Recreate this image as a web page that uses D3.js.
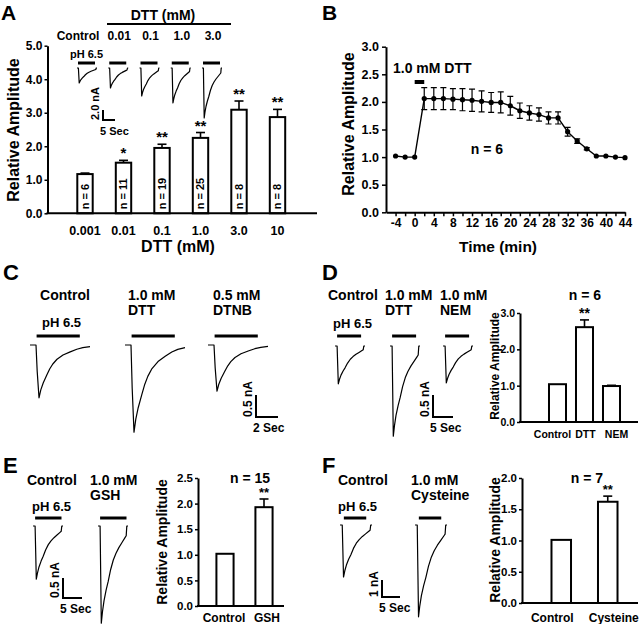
<!DOCTYPE html>
<html>
<head>
<meta charset="utf-8">
<script src="https://cdn.jsdelivr.net/npm/d3@7"></script>
<style>
  body { margin: 0; background: #fff; }
  svg { display: block; }
</style>
</head>
<body>
<div id="fig"></div>
<script>
const FONT = "'Liberation Sans', Arial, Helvetica, sans-serif";

// ---------- data ----------
// A: dose response
const dttDose = ["0.001", "0.01", "0.1", "1.0", "3.0", "10"];
const dttMean = [1.17, 1.51, 1.95, 2.25, 3.09, 2.87];
const dttSem  = [0.03, 0.07, 0.11, 0.16, 0.26, 0.23];
const dttN    = [6, 11, 19, 25, 8, 8];
const dttSig  = ["", "*", "**", "**", "**", "**"];
const insetA     = ["Control", "0.01", "0.1", "1.0", "3.0"];
const insetAPeak = [3.0, 4.0, 5.6, 7.0, 10.0];   // nA

// B: time course, 1.0 mM DTT
const timeMin = [-4, -2, 0, 2, 4, 6, 8, 10, 12, 14, 16, 18, 20, 22, 24, 26, 28, 30, 32, 34, 36, 38, 40, 42, 44];
const timeAmp = [1.02, 1.00, 1.00, 2.06, 2.06, 2.06, 2.05, 2.04, 2.03, 2.01, 1.99, 1.99, 1.93, 1.84, 1.80, 1.77, 1.71, 1.71, 1.46, 1.29, 1.15, 1.02, 1.02, 1.00, 0.99];
const timeSem = [0.01, 0.01, 0.01, 0.20, 0.20, 0.20, 0.19, 0.20, 0.20, 0.19, 0.18, 0.19, 0.17, 0.14, 0.13, 0.12, 0.11, 0.11, 0.08, 0.04, 0.02, 0.01, 0.01, 0.01, 0.01];

// C
const cLabels = [["Control"], ["1.0 mM", "DTT"], ["0.5 mM", "DTNB"]];
const cPeak = [1.2, 1.98, 1.05];

// D
const dLabels = [["Control"], ["1.0 mM", "DTT"], ["1.0 mM", "NEM"]];
const dPeak = [0.86, 2.05, 0.84];
const dCat  = ["Control", "DTT", "NEM"];
const dMean = [1.04, 2.61, 0.99];
const dSem  = [0, 0.20, 0.02];
const dSig  = ["", "**", ""];

// E
const eLabels = [["Control"], ["1.0 mM", "GSH"]];
const ePeak = [1.33, 2.43];
const eCat  = ["Control", "GSH"];
const eMean = [1.02, 1.93];
const eSem  = [0, 0.16];
const eSig  = ["", "**"];

// F
const fLabels = [["Control"], ["1.0 mM", "Cysteine"]];
const fPeak = [3.06, 5.4];
const fCat  = ["Control", "Cysteine"];
const fMean = [1.01, 1.62];
const fSem  = [0, 0.09];
const fSig  = ["", "**"];

// current trace shapes: [fraction of sweep, fraction of peak]
const shapeFast = [[0,0],[0.07,0],[0.09,0.5],[0.11,1],[0.15,0.88],[0.2,0.77],[0.27,0.66],[0.34,0.57],
  [0.42,0.45],[0.51,0.35],[0.6,0.28],[0.7,0.22],[0.8,0.17],[0.9,0.12],[0.94,0.1],[0.96,0],[1,0]];
const shapeSlow = [[0,0],[0.1,0],[0.12,0.5],[0.15,1],[0.18,0.85],[0.22,0.72],[0.28,0.57],[0.33,0.45],
  [0.38,0.36],[0.45,0.27],[0.55,0.19],[0.67,0.13],[0.78,0.08],[0.88,0.05],[1,0.03]];

// ---------- drawing ----------
const svg = d3.select("#fig").append("svg")
  .attr("width", 640).attr("height", 624)
  .attr("font-family", FONT).attr("font-weight", "bold");

function txt(x, y, s, size, anchor, rot) {
  const t = svg.append("text").attr("x", x).attr("y", y)
    .attr("font-size", size).attr("text-anchor", anchor || "start").text(s);
  if (rot) t.attr("transform", "rotate(-90," + x + "," + y + ")");
  return t;
}

function styleAxis(g, fs) {
  g.attr("font-family", FONT).attr("font-size", fs).attr("font-weight", "bold");
  g.select(".domain").attr("stroke-width", 2);
  g.selectAll(".tick line").attr("stroke-width", 1.5);
  g.selectAll(".tick text").attr("fill", "#000");
}

function hline(x1, x2, y, w) {
  svg.append("line").attr("x1", x1).attr("x2", x2).attr("y1", y).attr("y2", y)
    .attr("stroke", "#000").attr("stroke-width", w);
}

// bars + error bars + stars
function bars(xs, ys, cats, means, sems, sig, capW, starSize) {
  const g = svg.append("g");
  g.selectAll("rect").data(cats).enter().append("rect")
    .attr("x", d => xs(d)).attr("width", xs.bandwidth())
    .attr("y", (d, i) => ys(means[i])).attr("height", (d, i) => ys(0) - ys(means[i]))
    .attr("fill", "#fff").attr("stroke", "#000").attr("stroke-width", 2);
  cats.forEach((c, i) => {
    const cx = xs(c) + xs.bandwidth() / 2;
    if (sems[i] > 0) {
      const top = ys(means[i] + sems[i]);
      g.append("line").attr("x1", cx).attr("x2", cx).attr("y1", ys(means[i])).attr("y2", top)
        .attr("stroke", "#000").attr("stroke-width", 1.6);
      g.append("line").attr("x1", cx - capW / 2).attr("x2", cx + capW / 2).attr("y1", top).attr("y2", top)
        .attr("stroke", "#000").attr("stroke-width", 1.6);
    }
    if (sig[i]) txt(cx, ys(means[i] + sems[i]) - 2, sig[i], starSize, "middle");
  });
}

// electrophysiology traces
const lineGen = d3.line();
function traces(starts, base, width, pxNA, peaks, shape, bar, barY) {
  peaks.forEach((pk, i) => {
    const tx = d3.scaleLinear().domain([0, 1]).range([starts[i], starts[i] + width]);
    const ty = d3.scaleLinear().domain([0, 1]).range([base, base + pk * pxNA]);
    svg.append("path").attr("d", lineGen(shape.map(p => [tx(p[0]), ty(p[1])])))
      .attr("fill", "none").attr("stroke", "#000").attr("stroke-width", 1.2)
      .attr("stroke-linejoin", "round");
    hline(tx(bar[0]), tx(bar[1]), barY, 3);
  });
}

function scaleBar(x, y, vLen, hLen, vLab, hLab, fs) {
  svg.append("path").attr("d", "M" + x + "," + (y - vLen) + "V" + y + "H" + (x + hLen))
    .attr("fill", "none").attr("stroke", "#000").attr("stroke-width", 2);
  txt(x - 4, y, vLab, fs, "start", true);
  txt(x - 3, y + 14.5, hLab, fs, "start");
}

// ===== Panel A =====
txt(1, 20, "A", 21);
const yA = d3.scaleLinear().domain([0, 5]).range([213.3, 45.7]);
const xA = d3.scaleBand().domain(dttDose).range([65.75, 296.75]).paddingInner(0.6).paddingOuter(0.3);
const gAy = svg.append("g").attr("transform", "translate(47.5,0)")
  .call(d3.axisLeft(yA).tickValues([0, 1, 2, 3, 4, 5]).tickFormat(d3.format(".1f")).tickSize(3).tickPadding(2).tickSizeOuter(0));
styleAxis(gAy, 12);
bars(xA, yA, dttDose, dttMean, dttSem, dttSig, 9, 15);
hline(46.5, 317, yA(0), 2);
dttDose.forEach((d, i) => {
  const cx = xA(d) + xA.bandwidth() / 2;
  txt(cx, 235, d, 12.5, "middle");
  txt(cx + 4, yA(0) - 4, "n = " + dttN[i], 11, "start", true);
});
txt(19, 130, "Relative Amplitude", 16, "middle", true);
txt(178, 252, "DTT (mM)", 16, "middle");
// inset traces
txt(163, 20, "DTT (mM)", 14, "middle");
hline(107, 231, 24, 2);
const xInsA = d3.scalePoint().domain(insetA).range([77, 202]);
insetA.forEach((d, i) => txt(i === 0 ? 78 : xInsA(d) + 11, 40, d, 12, "middle"));
txt(70, 58, "pH 6.5", 11);
traces(insetA.map(d => xInsA(d)), 68, 20, 5, insetAPeak, shapeFast, [0.05, 0.9], 63);
scaleBar(103, 120, 2.0 * 5, 5 * 2.4, "2.0 nA", "5 Sec", 11);

// ===== Panel B =====
txt(322, 20, "B", 21);
const xB = d3.scaleLinear().domain([-6, 44]).range([386, 625]);
const yB = d3.scaleLinear().domain([0, 3]).range([212.3, 46.7]);
const gBy = svg.append("g").attr("transform", "translate(386,0)")
  .call(d3.axisLeft(yB).tickValues(d3.range(0, 3.01, 0.5)).tickFormat(d3.format(".1f")).tickSize(4).tickPadding(3).tickSizeOuter(0));
styleAxis(gBy, 12.5);
const gBx = svg.append("g").attr("transform", "translate(0," + yB(0) + ")")
  .call(d3.axisBottom(xB).tickValues(d3.range(-4, 45, 2)).tickFormat(d => d % 4 === 0 ? String(d) : "")
    .tickSize(4).tickPadding(2).tickSizeOuter(0));
styleAxis(gBx, 12);
svg.append("path")
  .attr("d", d3.line().x((d, i) => xB(timeMin[i])).y(d => yB(d))(timeAmp))
  .attr("fill", "none").attr("stroke", "#000").attr("stroke-width", 1.4);
timeMin.forEach((t, i) => {
  if (timeSem[i] > 0.015) {
    const lo = yB(timeAmp[i] - timeSem[i]), hi = yB(timeAmp[i] + timeSem[i]);
    svg.append("path").attr("d", "M" + xB(t) + "," + lo + "V" + hi +
      "M" + (xB(t) - 3) + "," + lo + "h6M" + (xB(t) - 3) + "," + hi + "h6")
      .attr("stroke", "#000").attr("stroke-width", 1.2).attr("fill", "none");
  }
});
svg.append("g").selectAll("circle").data(timeAmp).enter().append("circle")
  .attr("cx", (d, i) => xB(timeMin[i])).attr("cy", d => yB(d)).attr("r", 2.6).attr("fill", "#000");
hline(xB(0), xB(2), 82, 4);
txt(393, 73, "1.0 mM DTT", 14);
txt(487, 154, "n = 6", 14, "middle");
txt(354, 124, "Relative Amplitude", 16, "middle", true);
txt(498, 252, "Time (min)", 15.5, "middle");

// ===== Panel C =====
txt(3, 280, "C", 22);
const cStart = [30, 125, 208];
txt(65, 300, cLabels[0][0], 14, "middle");
[1, 2].forEach(i => cLabels[i].forEach((s, k) => txt(cStart[i] + 3 + (i === 2 ? 2 : 0), 300 + 15 * k, s, 14)));
txt(42, 327, "pH 6.5", 13);
traces(cStart, 345, 60, 44, cPeak, shapeSlow, [0.11, 0.83], 336);
scaleBar(256, 417, 0.5 * 44, 2 * 11, "0.5 nA", "2 Sec", 12);

// ===== Panel D =====
txt(322, 280, "D", 22);
const dStart = [335, 390, 443];
txt(328, 300, dLabels[0][0], 14);
[1, 2].forEach(i => dLabels[i].forEach((s, k) => txt(dStart[i] - 5 + (i === 2 ? 2 : 0), 300 + 15 * k, s, 14)));
txt(333, 328, "pH 6.5", 13);
traces(dStart, 346, 30, 44, dPeak, shapeFast, [0.07, 0.87], 336);
scaleBar(433, 417, 0.5 * 44, 5 * 4, "0.5 nA", "5 Sec", 12);
const yD = d3.scaleLinear().domain([0, 3]).range([422, 313]);
const xD = d3.scaleBand().domain(dCat).range([544, 625]).paddingInner(0.37).paddingOuter(0.185);
const gDy = svg.append("g").attr("transform", "translate(520,0)")
  .call(d3.axisLeft(yD).tickValues([0, 1, 2, 3]).tickFormat(d3.format(".1f")).tickSize(3).tickPadding(2).tickSizeOuter(0));
styleAxis(gDy, 10.5);
bars(xD, yD, dCat, dMean, dSem, dSig, 9, 14);
hline(519, 638, yD(0), 2);
const dCatShift = [-5, 1, 5];
dCat.forEach((c, i) => txt(xD(c) + xD.bandwidth() / 2 + dCatShift[i], 438, c, 10.5, "middle"));
txt(585, 300, "n = 6", 14, "middle");
txt(499, 366, "Relative Amplitude", 12, "middle", true);

// ===== Panel E =====
txt(3, 473, "E", 22);
const eStart = [33, 98];
txt(27, 485, eLabels[0][0], 14);
eLabels[1].forEach((s, k) => txt(90, 485 + 15 * k, s, 14));
txt(32, 511, "pH 6.5", 13);
traces(eStart, 526, 30, 40, ePeak, shapeFast, [0.07, 0.95], 518);
scaleBar(63, 598, 0.5 * 40, 5 * 3.8, "0.5 nA", "5 Sec", 12);
const yE = d3.scaleLinear().domain([0, 2.5]).range([606, 478]);
const xE = d3.scaleBand().domain(eCat).range([205.5, 283.5]).paddingInner(0.56).paddingOuter(0.28);
const gEy = svg.append("g").attr("transform", "translate(198,0)")
  .call(d3.axisLeft(yE).tickValues(d3.range(0, 2.51, 0.5)).tickFormat(d3.format(".1f")).tickSize(3).tickPadding(2).tickSizeOuter(0));
styleAxis(gEy, 11.5);
bars(xE, yE, eCat, eMean, eSem, eSig, 9, 13);
hline(197, 284, yE(0), 2);
const eCatShift = [-1, 3];
eCat.forEach((c, i) => txt(xE(c) + xE.bandwidth() / 2 + eCatShift[i], 622, c, 12, "middle"));
txt(250, 483, "n = 15", 14, "middle");
txt(167, 542, "Relative Amplitude", 14, "middle", true);

// ===== Panel F =====
txt(322, 473, "F", 22);
const fStart = [340, 415];
txt(338, 485, fLabels[0][0], 14);
fLabels[1].forEach((s, k) => txt(411, 485 + 15 * k, s, 14));
txt(338, 511, "pH 6.5", 13);
traces(fStart, 525, 32, 17, fPeak, shapeFast, [0.12, 0.82], 518);
scaleBar(382, 597, 1 * 17, 5 * 3.6, "1 nA", "5 Sec", 12);
const yF = d3.scaleLinear().domain([0, 2]).range([603, 478]);
const xF = d3.scaleBand().domain(fCat).range([538, 631]).paddingInner(0.58).paddingOuter(0.29);
const gFy = svg.append("g").attr("transform", "translate(522,0)")
  .call(d3.axisLeft(yF).tickValues(d3.range(0, 2.01, 0.5)).tickFormat(d3.format(".1f")).tickSize(3).tickPadding(2).tickSizeOuter(0));
styleAxis(gFy, 11.5);
bars(xF, yF, fCat, fMean, fSem, fSig, 9, 13);
hline(521, 638, yF(0), 2);
const fCatShift = [-9, 6];
fCat.forEach((c, i) => txt(xF(c) + xF.bandwidth() / 2 + fCatShift[i], 622, c, 12, "middle"));
txt(587, 483, "n = 7", 14, "middle");
txt(500, 540, "Relative Amplitude", 14, "middle", true);
</script>
</body>
</html>
